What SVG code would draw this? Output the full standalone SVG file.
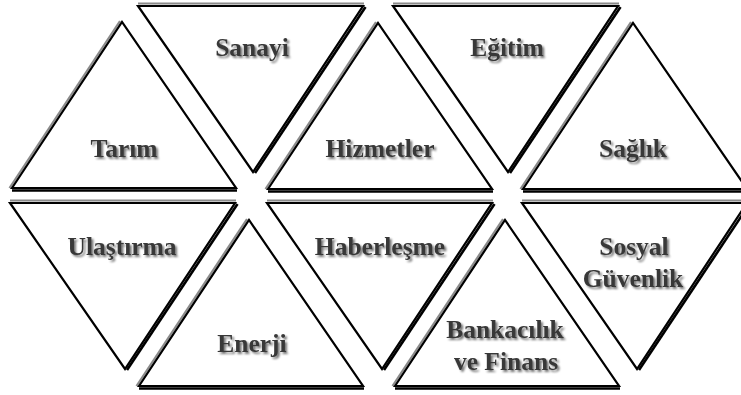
<svg xmlns="http://www.w3.org/2000/svg" width="741" height="395" viewBox="0 0 741 395">
<defs>
<filter id="ts" x="-10%" y="-30%" width="130%" height="170%">
<feGaussianBlur in="SourceAlpha" stdDeviation="1.2"/>
<feOffset dx="1.5" dy="1.5" result="b"/>
<feComponentTransfer><feFuncA type="linear" slope="0.55"/></feComponentTransfer>
<feMerge><feMergeNode/><feMergeNode in="SourceGraphic"/></feMerge>
</filter>
<polygon id="up" points="0,166 110,0 224,166"/>
<polygon id="dn" points="0,0 225,0 115,166"/>
</defs>
<style>
.tri{fill:#fff;stroke:#000;stroke-width:2.2;stroke-linejoin:miter}
.sg{stroke:#8a8a8a;stroke-width:2.2;fill:none}
.sb{stroke:#000;stroke-width:2.6;fill:none}
text{font-family:"Liberation Serif","Times New Roman",serif;font-weight:bold;font-size:25.5px;fill:#383838;text-anchor:middle;filter:url(#ts)}
</style>
<rect width="741" height="395" fill="#fff"/>

<g id="tarim" transform="translate(12,22)">
<line class="sg" x1="-2.5" y1="166" x2="108" y2="-1"/>
<use href="#up" class="tri"/>
<line class="sb" x1="0" y1="168.5" x2="225" y2="168.5"/>
<text x="112" y="135">Tarım</text>
</g>

<g id="sanayi" transform="translate(138,6)">
<line class="sg" x1="0" y1="-2.5" x2="226" y2="-2.5"/>
<use href="#dn" class="tri"/>
<line class="sb" x1="227.5" y1="1" x2="117" y2="167"/>
<text x="114" y="50">Sanayi</text>
</g>

<g id="hizmetler" transform="translate(268,23)">
<line class="sg" x1="-2.5" y1="166" x2="108" y2="-1"/>
<use href="#up" class="tri"/>
<line class="sb" x1="0" y1="168.5" x2="225" y2="168.5"/>
<text x="112" y="134">Hizmetler</text>
</g>

<g id="egitim" transform="translate(393,6)">
<line class="sg" x1="0" y1="-2.5" x2="226" y2="-2.5"/>
<use href="#dn" class="tri"/>
<line class="sb" x1="227.5" y1="1" x2="117" y2="167"/>
<text x="114" y="50">Eğitim</text>
</g>

<g id="saglik" transform="translate(523,23)">
<line class="sg" x1="-2.5" y1="166" x2="108" y2="-1"/>
<use href="#up" class="tri"/>
<line class="sb" x1="0" y1="168.5" x2="225" y2="168.5"/>
<text x="110" y="134">Sağlık</text>
</g>

<g id="ulastirma" transform="translate(10,203)">
<line class="sg" x1="0" y1="-2.5" x2="226" y2="-2.5"/>
<use href="#dn" class="tri"/>
<line class="sb" x1="227.5" y1="1" x2="117" y2="167"/>
<text x="112" y="52">Ulaştırma</text>
</g>

<g id="enerji" transform="translate(139,220)">
<line class="sg" x1="-2.5" y1="166" x2="108" y2="-1"/>
<use href="#up" class="tri"/>
<line class="sb" x1="0" y1="168.5" x2="225" y2="168.5"/>
<text x="113" y="132">Enerji</text>
</g>

<g id="haberlesme" transform="translate(267,203)">
<line class="sg" x1="0" y1="-2.5" x2="226" y2="-2.5"/>
<use href="#dn" class="tri"/>
<line class="sb" x1="227.5" y1="1" x2="117" y2="167"/>
<text x="113" y="52">Haberleşme</text>
</g>

<g id="bankacilik" transform="translate(395,220)">
<line class="sg" x1="-2.5" y1="166" x2="108" y2="-1"/>
<use href="#up" class="tri"/>
<line class="sb" x1="0" y1="168.5" x2="225" y2="168.5"/>
<text x="110" y="118">Bankacılık</text>
<text x="111" y="150">ve Finans</text>
</g>

<g id="sosyal" transform="translate(522,203)">
<line class="sg" x1="0" y1="-2.5" x2="226" y2="-2.5"/>
<use href="#dn" class="tri"/>
<line class="sb" x1="227.5" y1="1" x2="117" y2="167"/>
<text x="112" y="52">Sosyal</text>
<text x="111" y="84">Güvenlik</text>
</g>

<g id="connectors"></g>
</svg>
